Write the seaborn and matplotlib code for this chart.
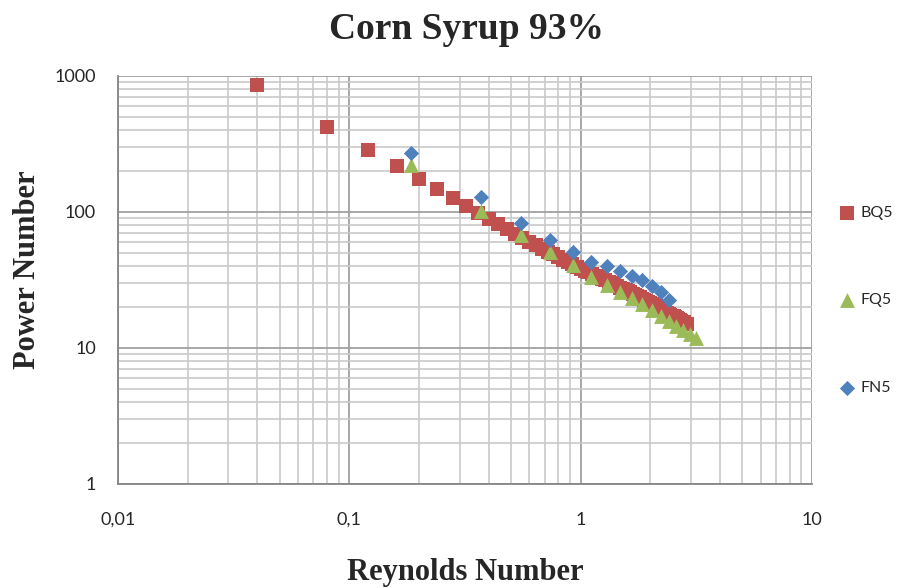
import numpy as np
import pandas as pd
import matplotlib
matplotlib.use("Agg")
import matplotlib.pyplot as plt
import matplotlib.ticker as mticker
import seaborn as sns

# BQ5 series (red squares)
bq5_re = [0.04, 0.08, 0.12, 0.16, 0.20, 0.24, 0.28, 0.32, 0.36, 0.40,
          0.44, 0.48, 0.52, 0.56, 0.60, 0.64, 0.68, 0.72, 0.76, 0.80,
          0.84, 0.88, 0.92, 0.96, 1.00, 1.04, 1.08, 1.12, 1.16, 1.20,
          1.24, 1.28, 1.32, 1.36, 1.40, 1.44, 1.48, 1.52, 1.56, 1.60,
          1.64, 1.68, 1.72, 1.76, 1.80, 1.84, 1.88, 1.92, 1.96, 2.00,
          2.04, 2.08, 2.12, 2.16, 2.20, 2.24, 2.28, 2.32, 2.36, 2.40,
          2.44, 2.48, 2.52, 2.56, 2.60, 2.64, 2.68, 2.72, 2.76, 2.80,
          2.84, 2.88]
bq5_np = [860, 425, 285, 216, 175, 147, 126, 111, 99, 89,
          81, 75, 69, 64.5, 60.3, 56.9, 53.8, 51.1, 48.7, 46.5,
          44.5, 42.7, 41.1, 39.6, 38.2, 37.0, 35.9, 34.9, 34.0, 33.1,
          32.3, 31.4, 30.6, 29.9, 29.1, 28.5, 27.8, 27.2, 26.7, 26.1,
          25.6, 25.1, 24.5, 24.0, 23.6, 23.1, 22.7, 22.2, 21.8, 21.5,
          21.1, 20.7, 20.3, 19.9, 19.5, 19.2, 18.9, 18.5, 18.2, 17.9,
          17.6, 17.3, 17.1, 16.8, 16.5, 16.3, 16.0, 15.8, 15.6, 15.4,
          15.1, 14.9]

# FQ5 series (green triangles)
fq5_re = [0.185, 0.37, 0.555, 0.74, 0.925, 1.11, 1.295, 1.48, 1.665,
          1.85, 2.035, 2.22, 2.405, 2.59, 2.775, 2.96, 3.145]
fq5_np = [222, 102, 67.8, 51, 40.8, 33.4, 29, 25.9, 23.5,
          21, 19, 17.3, 15.8, 14.6, 13.5, 12.6, 11.8]

# FN5 series (blue diamonds)
fn5_re = [0.185, 0.37, 0.555, 0.74, 0.925, 1.11, 1.295, 1.48, 1.665,
          1.85, 2.035, 2.22, 2.405]
fn5_np = [272, 129, 83, 62, 50.8, 42.9, 40, 36.8, 33.8,
          31.6, 28.6, 25.8, 22.5]

x_ticks = [0.01, 0.1, 1, 10]
x_tick_labels = ['0,01', '0,1', '1', '10']
y_ticks = [1, 10, 100, 1000]
y_tick_labels = ['1', '10', '100', '1000']


def build_frame():
    """Long table with one row per point."""
    parts = []
    for name, re, pn in [('BQ5', bq5_re, bq5_np),
                         ('FQ5', fq5_re, fq5_np),
                         ('FN5', fn5_re, fn5_np)]:
        parts.append(pd.DataFrame({'Re': re, 'Np': pn, 'Series': name}))
    return pd.concat(parts, ignore_index=True)


def main():
    sns.set_style('white')
    plt.rcParams['font.family'] = ['Lato', 'DejaVu Sans']

    df = build_frame()

    fig = plt.figure(figsize=(8.98, 5.88), dpi=100)
    ax = fig.add_axes([0.1314, 0.1769, 0.7728, 0.6939])

    styles = {
        'BQ5': dict(marker='s', color='#C0504D', s=105),
        'FQ5': dict(marker='^', color='#9BBB59', s=115),
        'FN5': dict(marker='D', color='#4F81BD', s=60),
    }
    for name, st in styles.items():
        sub = df[df['Series'] == name]
        sns.scatterplot(data=sub, x='Re', y='Np', marker=st['marker'],
                        color=st['color'], s=st['s'], linewidth=0,
                        label=name, ax=ax, zorder=3)

    ax.set_xscale('log')
    ax.set_yscale('log')
    ax.set_xlim(0.01, 10)
    ax.set_ylim(1, 1000)

    ax.set_xticks(x_ticks, labels=x_tick_labels)
    ax.set_yticks(y_ticks, labels=y_tick_labels)
    ax.xaxis.set_minor_locator(mticker.LogLocator(base=10, subs=range(2, 10)))
    ax.yaxis.set_minor_locator(mticker.LogLocator(base=10, subs=range(2, 10)))
    ax.xaxis.set_minor_formatter(mticker.NullFormatter())
    ax.yaxis.set_minor_formatter(mticker.NullFormatter())

    ax.tick_params(axis='both', which='major', length=6, width=1.2,
                   color='#868686', labelsize=13, labelcolor='#262626')
    ax.tick_params(axis='x', which='major', pad=14)
    ax.tick_params(axis='y', which='major', pad=10)
    ax.tick_params(axis='both', which='minor', length=0)

    ax.grid(which='major', color='#a0a0a0', lw=1.3)
    ax.grid(which='minor', color='#c9c9c9', lw=1.2)
    ax.set_axisbelow(True)

    for side in ['top', 'right']:
        ax.spines[side].set_visible(False)
    for side in ['left', 'bottom']:
        ax.spines[side].set_color('#868686')
        ax.spines[side].set_linewidth(1.3)

    serif = ['Liberation Serif', 'DejaVu Serif']
    ax.set_xlabel('Reynolds Number', family=serif, weight='bold',
                  fontsize=22, va='center')
    ax.xaxis.set_label_coords(0.5, -0.218)
    ax.set_ylabel('Power Number', family=serif, weight='bold',
                  fontsize=22, va='center')
    ax.yaxis.set_label_coords(-0.131, 0.525)

    fig.text(0.52, 0.949, 'Corn Syrup 93%', family=serif, weight='bold',
             fontsize=27, ha='center', va='center')

    ax.legend(loc='center left', bbox_to_anchor=(1.028, 0.45), frameon=False,
              labelspacing=4.6, handlelength=1.0, handletextpad=0.3,
              borderpad=0, fontsize=11.5, labelcolor='#262626')

    fig.savefig('out.png', dpi=100)


if __name__ == '__main__':
    main()
